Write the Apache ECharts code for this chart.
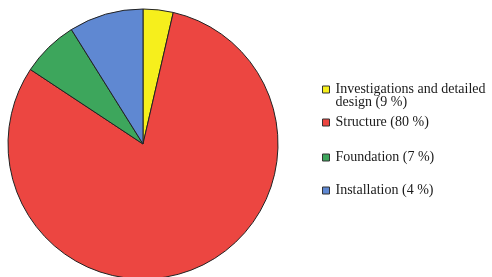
<!DOCTYPE html>
<html lang="en">
<head>
  <meta charset="UTF-8">
  <title>Cost breakdown</title>
  <script src="https://cdn.jsdelivr.net/npm/echarts@6/dist/echarts.min.js"></script>
  <style>
    html, body { margin: 0; padding: 0; background: #fff; }
    #main { width: 492px; height: 277px; }
  </style>
</head>
<body>
<div id="main"></div>
<script>
  // slices in clockwise order from 12 o'clock, sizes
  var names = ['Investigations', 'Structure', 'Foundation', 'Installation'];
  var values = [3.6, 80.7, 6.8, 8.9];
  var labels = ['Investigations and detailed\ndesign (9 %)', 'Structure (80 %)', 'Foundation (7 %)', 'Installation (4 %)'];
  var colors = ['#f6ef1c', '#ec4641', '#3da65c', '#5f88d2'];
  var legendY = [89, 122, 157, 190];

  var data = names.map(function (n, i) {
    return { name: n, value: values[i], itemStyle: { color: colors[i] } };
  });

  var legends = names.map(function (n, i) {
    var twoLines = labels[i].indexOf('\n') >= 0;
    // a blank first line keeps the icon level with the first line of text
    var text = twoLines ? ' \n' + labels[i] : labels[i];
    var h = twoLines ? 39 : 13;
    return {
      data: [n],
      orient: 'vertical',
      left: 322,
      top: legendY[i] - h / 2,
      padding: 0,
      itemWidth: 7,
      itemHeight: 7,
      icon: 'rect',
      itemStyle: { borderColor: '#333', borderWidth: 1 },
      formatter: function () { return text; },
      textStyle: {
        fontFamily: 'Liberation Serif',
        fontSize: 14,
        lineHeight: 13,
        color: '#1a1a1a',
        padding: [0, 0, 0, 1]
      },
      selectedMode: false
    };
  });

  var chart = echarts.init(document.querySelector('#main'));
  chart.setOption({
    animation: false,
    legend: legends,
    series: [{
      type: 'pie',
      center: [143, 144],
      radius: 135,
      startAngle: 90,
      clockwise: true,
      label: { show: false },
      labelLine: { show: false },
      itemStyle: { borderColor: '#222', borderWidth: 1 },
      emphasis: { disabled: true },
      data: data
    }]
  });
</script>
</body>
</html>
